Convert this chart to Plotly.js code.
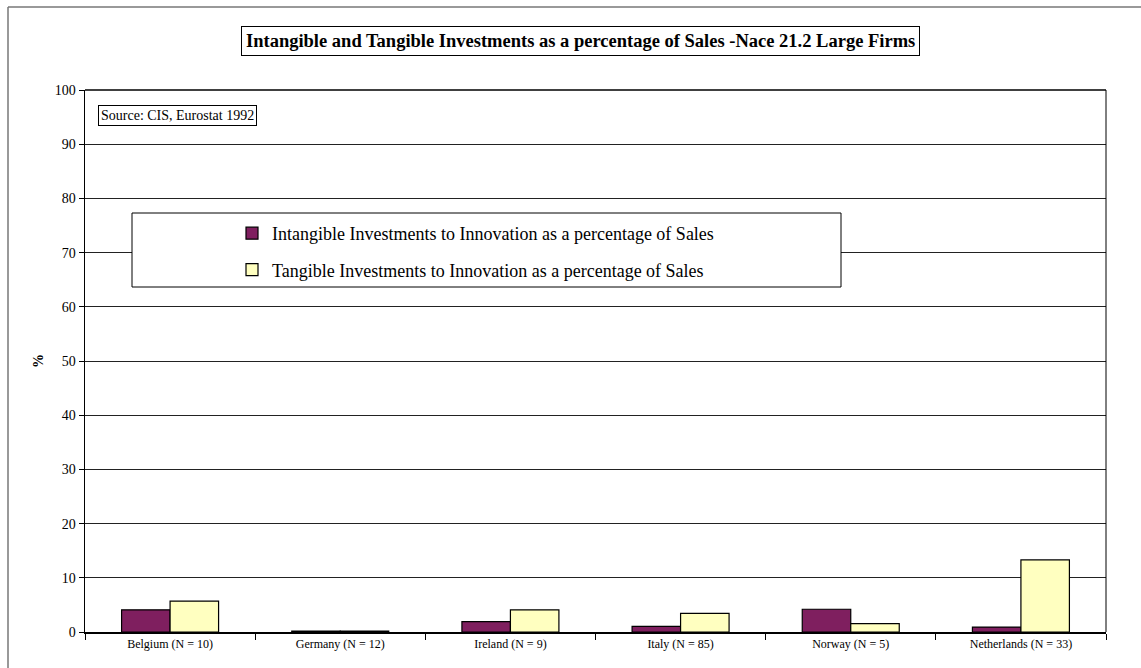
<!DOCTYPE html>
<html>
<head>
<meta charset="utf-8">
<script src="https://cdn.plot.ly/plotly-3.0.1.min.js"></script>
<style>html,body{margin:0;padding:0;background:#fff;}#chart{width:1141px;height:668px;}</style>
</head>
<body>
<div id="chart"></div>
<script>
const categories = ["Belgium (N = 10)", "Germany (N = 12)", "Ireland (N = 9)", "Italy (N = 85)", "Norway (N = 5)", "Netherlands (N = 33)"];
const intangible = [4.1, 0.15, 1.9, 1.05, 4.2, 0.9];
const tangible = [5.7, 0.15, 4.1, 3.45, 1.55, 13.3];
const seriesNames = ["Intangible Investments to Innovation as a percentage of Sales", "Tangible Investments to Innovation as a percentage of Sales"];
const yTicks = [0, 10, 20, 30, 40, 50, 60, 70, 80, 90, 100];

const font = "Liberation Serif, Times New Roman, serif";
const L = 85, R = 1106, T = 90, B = 632, W = 1141, H = 668;
const px = x => (x - L) / (R - L);
const py = y => (B - y) / (B - T);

const traces = [
  {type: "bar", x: categories, y: intangible, name: seriesNames[0], legendgroup: "a",
   marker: {color: "#7f1f5f", line: {color: "#000", width: 1.2}}},
  {type: "bar", x: categories, y: tangible, name: seriesNames[1], legendgroup: "b",
   marker: {color: "#ffffc0", line: {color: "#000", width: 1.2}}}
];

const layout = {
  width: W, height: H,
  margin: {l: L, r: W - R, t: T, b: H - B, pad: 0},
  paper_bgcolor: "#fff", plot_bgcolor: "#fff",
  font: {family: font, color: "#000"},
  barmode: "group", bargap: 0.43, bargroupgap: 0,
  showlegend: true,
  legend: {x: px(232), y: py(215), xanchor: "left", yanchor: "top",
           bgcolor: "rgba(0,0,0,0)", borderwidth: 0,
           font: {family: font, size: 18, color: "#000"},
           traceorder: "grouped", tracegroupgap: 10, itemwidth: 30},
  xaxis: {type: "category", showline: true, linecolor: "#000", linewidth: 1.5,
          mirror: false, ticks: "outside", ticklen: 6, tickcolor: "#000",
          tickson: "boundaries", tickfont: {family: font, size: 12}, showgrid: false,
          fixedrange: true},
  yaxis: {range: [0, 100], tickvals: yTicks, ticktext: yTicks.map(String),
          showline: true, linecolor: "#000", linewidth: 1.5, ticks: "outside",
          ticklen: 5, tickcolor: "#000", tickfont: {family: font, size: 14},
          showgrid: true, gridcolor: "#222", gridwidth: 1, zeroline: false,
          title: {text: "%", font: {family: font, size: 14, weight: "bold"}, standoff: 8}},
  shapes: [
    {type: "line", xref: "paper", yref: "paper", x0: 0, x1: 1, y0: 1, y1: 1, line: {color: "#000", width: 1.5}},
    {type: "line", xref: "paper", yref: "paper", x0: 1, x1: 1, y0: 0, y1: 1, line: {color: "#000", width: 1}},
    {type: "line", xref: "paper", yref: "paper", x0: px(8), x1: px(1141), y0: py(7), y1: py(7), line: {color: "#777", width: 1.5}},
    {type: "line", xref: "paper", yref: "paper", x0: px(8), x1: px(8), y0: py(7), y1: py(700), line: {color: "#777", width: 1.5}},
    {type: "rect", xref: "paper", yref: "paper", x0: px(132), x1: px(841), y0: py(287), y1: py(213),
     fillcolor: "#fff", line: {color: "#000", width: 1}, layer: "above"}
  ],
  annotations: [
    {xref: "paper", yref: "paper", x: px(580), y: py(41), xanchor: "center", yanchor: "middle",
     text: "<b>Intangible and Tangible Investments as a percentage of Sales -Nace 21.2 Large Firms</b>",
     showarrow: false, font: {family: font, size: 18.5, color: "#000"},
     bordercolor: "#000", borderwidth: 1, borderpad: 4, bgcolor: "#fff"},
    {xref: "paper", yref: "paper", x: px(98), y: py(115), xanchor: "left", yanchor: "middle",
     text: "Source: CIS, Eurostat 1992", showarrow: false,
     font: {family: font, size: 14, color: "#000"},
     bordercolor: "#000", borderwidth: 1, borderpad: 2, bgcolor: "#fff"}
  ]
};

Plotly.newPlot("chart", traces, layout, {displayModeBar: false, staticPlot: true});
</script>
</body>
</html>
